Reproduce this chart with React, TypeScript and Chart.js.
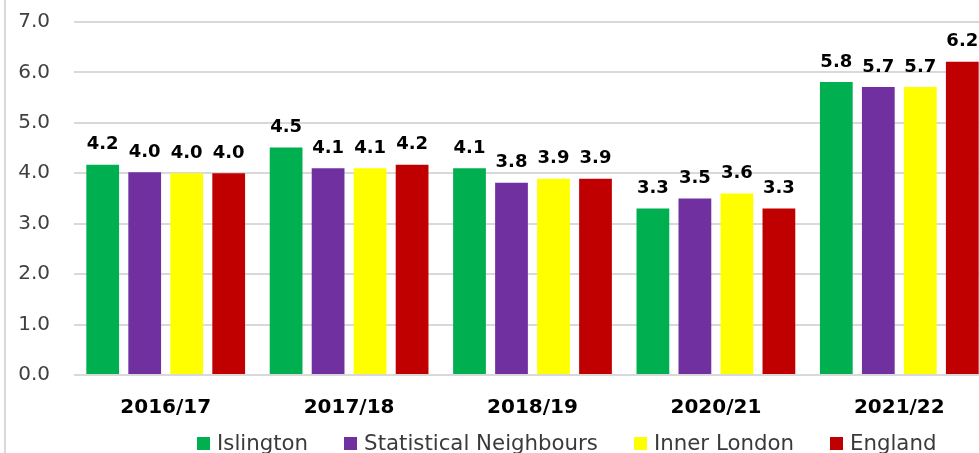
import React, { useEffect, useRef } from "react";
import { Chart, registerables } from "chart.js";

Chart.register(...registerables);

const categories = ["2016/17", "2017/18", "2018/19", "2020/21", "2021/22"];
const islington = [4.17, 4.51, 4.1, 3.3, 5.81];
const statNeighbours = [4.02, 4.1, 3.81, 3.5, 5.71];
const innerLondon = [4.0, 4.1, 3.89, 3.6, 5.71];
const england = [4.0, 4.17, 3.89, 3.3, 6.21];
const seriesNames = ["Islington", "Statistical Neighbours", "Inner London", "England"];
const seriesColors = ["#00B050", "#7030A0", "#FFFF00", "#C00000"];
const yTicks = [0, 1, 2, 3, 4, 5, 6, 7];

const FONT = "'DejaVu Sans', sans-serif";

const labelPlugin = {
  id: "barValueLabels",
  afterDatasetsDraw(chart: any) {
    const ctx = chart.ctx;
    ctx.save();
    ctx.font = `bold 18px ${FONT}`;
    ctx.fillStyle = "#000000";
    ctx.textAlign = "center";
    ctx.textBaseline = "alphabetic";
    chart.data.datasets.forEach((ds: any, i: number) => {
      const meta = chart.getDatasetMeta(i);
      meta.data.forEach((el: any, j: number) => {
        const v = ds.data[j] as number;
        ctx.fillText(v.toFixed(1), el.x, el.y - 15.5);
      });
    });
    ctx.restore();
  },
};

export default function App() {
  const ref = useRef<HTMLCanvasElement>(null);

  useEffect(() => {
    if (!ref.current) return;
    const seriesData = [islington, statNeighbours, innerLondon, england];
    const chart = new Chart(ref.current, {
      type: "bar",
      data: {
        labels: categories,
        datasets: seriesNames.map((name, i) => ({
          label: name,
          data: seriesData[i],
          backgroundColor: seriesColors[i],
          borderWidth: 0,
          categoryPercentage: 0.916,
          barPercentage: 0.78,
        })),
      },
      options: {
        responsive: false,
        animation: false,
        devicePixelRatio: 1,
        layout: { padding: { left: 0, right: 19, top: 22, bottom: 0 } },
        plugins: {
          legend: { display: false },
          title: { display: false },
          tooltip: { enabled: false },
        },
        scales: {
          x: {
            grid: { display: false, drawTicks: false },
            border: { display: false },
            ticks: {
              color: "#000000",
              font: { family: FONT, size: 20, weight: "bold" },
              padding: 21,
            },
            afterFit: (s: any) => {
              s.height = 78;
              s.paddingLeft = 0;
              s.paddingRight = 0;
            },
          },
          y: {
            min: 0,
            max: 7,
            afterBuildTicks: (s: any) => {
              s.ticks = yTicks.map((v) => ({ value: v }));
            },
            grid: { color: "#d9d9d9", lineWidth: 2, drawTicks: false },
            border: { display: false },
            ticks: {
              color: "#404040",
              font: { family: FONT, size: 20 },
              padding: 24,
              callback: (v: any) => Number(v).toFixed(1),
            },
            afterFit: (s: any) => {
              s.width = 74;
              s.paddingTop = 0;
              s.paddingBottom = 0;
            },
          },
        },
      },
      plugins: [labelPlugin],
    });
    return () => chart.destroy();
  }, []);

  return (
    <div
      style={{
        position: "absolute",
        left: 0,
        top: 0,
        width: 979,
        height: 453,
        overflow: "hidden",
        background: "#ffffff",
      }}
    >
      <canvas
        ref={ref}
        width={1010}
        height={453}
        style={{ position: "absolute", left: 0, top: 0, width: 1010, height: 453, display: "block" }}
      />
      <div
        style={{
          position: "absolute",
          left: 4,
          top: 0,
          width: 2,
          height: 453,
          background: "#d9d9d9",
        }}
      />
      <div
        style={{
          position: "absolute",
          left: 197,
          top: 432,
          display: "flex",
          alignItems: "flex-start",
          fontFamily: FONT,
          fontSize: 21.3,
          lineHeight: "21.3px",
          color: "#3a3a3a",
          whiteSpace: "nowrap",
        }}
      >
        {seriesNames.map((name, i) => (
          <div key={name} style={{ display: "flex", alignItems: "flex-start", marginRight: 36 }}>
            <div
              style={{
                width: 13,
                height: 13,
                marginTop: 5,
                marginRight: 7,
                background: seriesColors[i],
              }}
            />
            <span>{name}</span>
          </div>
        ))}
      </div>
    </div>
  );
}
